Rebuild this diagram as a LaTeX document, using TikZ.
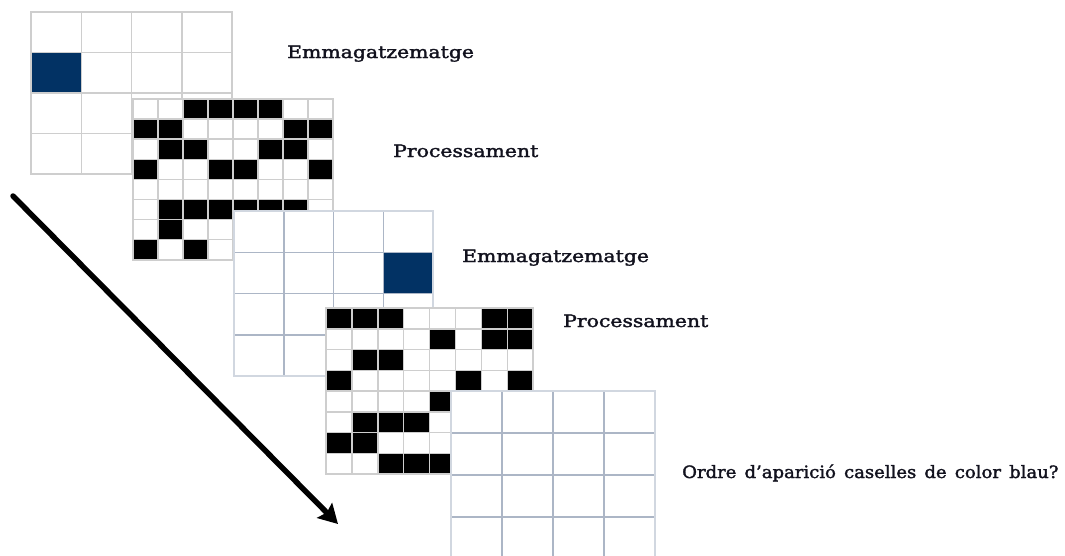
\documentclass[tikz,border=0pt]{standalone}
\usepackage{fontspec}
\setmainfont{DejaVu Serif}
\newfontfamily\lblfont{DejaVu Serif}[FakeBold=1.8]
\usepackage{graphicx}
\usetikzlibrary{arrows.meta}

\definecolor{blaucel}{RGB}{2,50,100}
\definecolor{linegray}{RGB}{206,206,206}
\definecolor{lineblue}{RGB}{172,182,198}
\definecolor{textink}{RGB}{18,18,30}

% wide serif lettering of the labels
\newcommand{\wide}[1]{\scalebox{1.2}[1]{#1}}

\begin{document}
\begin{tikzpicture}[
    x=1pt, y=-1pt,
    lbl/.style={anchor=base west, inner sep=0pt, text=textink,
                font=\lblfont\fontsize{17}{20}\selectfont},
    cellgrid/.style={draw=linegray, line width=1.5pt},
    cellgridB/.style={draw=lineblue, line width=1.5pt},
    framegrid/.style={draw=lineblue!55, line width=1.5pt},
    blackcell/.style={fill=black},
    bluecell/.style={fill=blaucel},
    >={Stealth[length=19pt, width=21pt, inset=3pt]},
    arr/.style={->, line width=5.5pt, line cap=round},
]
\useasboundingbox (0,0) rectangle (1065,555);
\clip (0,0) rectangle (1065,555);

% --- Emmagatzematge 1 (4x4) ---
\begin{scope}[shift={(31,12)}, x=50.25pt, y=-40.5pt]
  \fill[white] (0,0) rectangle (4,4);
  \fill[bluecell] (0,1) rectangle (1,2);
  \foreach \i in {1,2,3} {
    \draw[cellgrid] (\i,0) -- (\i,4);
    \draw[cellgrid] (0,\i) -- (4,\i);
  }
  \draw[cellgrid] (0,0) rectangle (4,4);
\end{scope}

% --- Processament 1 (8x8) ---
\begin{scope}[shift={(133,99)}, x=25pt, y=-20.1pt]
  \fill[white] (0,0) rectangle (8,8);
  \foreach \c/\r in {2/0,3/0,4/0,5/0, 0/1,1/1,6/1,7/1, 1/2,2/2,5/2,6/2,
                     0/3,3/3,4/3,7/3, 1/5,2/5,3/5,4/5,5/5,6/5, 1/6, 0/7,2/7}
    \fill[blackcell] (\c,\r) rectangle ++(1,1);
  \foreach \i in {1,...,7} {
    \draw[cellgrid] (\i,0) -- (\i,8);
    \draw[cellgrid] (0,\i) -- (8,\i);
  }
  \draw[cellgrid] (0,0) rectangle (8,8);
\end{scope}

% --- Emmagatzematge 2 (4x4) ---
\begin{scope}[shift={(234,211)}, x=49.75pt, y=-41.25pt]
  \fill[white] (0,0) rectangle (4,4);
  \fill[bluecell] (3,1) rectangle (4,2);
  \foreach \i in {1,2,3} {
    \draw[cellgridB] (\i,0) -- (\i,4);
    \draw[cellgridB] (0,\i) -- (4,\i);
  }
  \draw[framegrid] (0,0) rectangle (4,4);
\end{scope}

% --- Processament 2 (8x8) ---
\begin{scope}[shift={(326,308)}, x=25.9pt, y=-20.75pt]
  \fill[white] (0,0) rectangle (8,8);
  \foreach \c/\r in {0/0,1/0,2/0,6/0,7/0, 4/1,6/1,7/1, 1/2,2/2,
                     0/3,5/3,7/3, 4/4, 1/5,2/5,3/5, 0/6,1/6, 2/7,3/7,4/7}
    \fill[blackcell] (\c,\r) rectangle ++(1,1);
  \foreach \i in {1,...,7} {
    \draw[cellgrid] (\i,0) -- (\i,8);
    \draw[cellgrid] (0,\i) -- (8,\i);
  }
  \draw[cellgrid] (0,0) rectangle (8,8);
\end{scope}

% --- Final grid (4x4, empty) ---
\begin{scope}[shift={(451,391)}, x=51pt, y=-42pt]
  \fill[white] (0,0) rectangle (4,4);
  \foreach \i in {1,2,3} {
    \draw[cellgridB] (\i,0) -- (\i,4);
    \draw[cellgridB] (0,\i) -- (4,\i);
  }
  \draw[framegrid] (0,0) rectangle (4,4);
\end{scope}

% --- Labels ---
\node[lbl] (emm1)  at (287,58)  {\wide{Emmagatzematge}};
\node[lbl] (proc1) at (393,157) {\wide{Processament}};
\node[lbl] (emm2)  at (462,262) {\wide{Emmagatzematge}};
\node[lbl] (proc2) at (563,327) {\wide{Processament}};
\node[lbl] (quest) at (682,478)
  {\scalebox{1.06}[1]{\makebox[355pt][s]{Ordre d’aparició caselles de color blau?}}};

% --- Time arrow ---
\coordinate (tstart) at (13,196);
\coordinate (tend)   at (338,524);
\draw[arr] (tstart) -- (tend);

\end{tikzpicture}
\end{document}
